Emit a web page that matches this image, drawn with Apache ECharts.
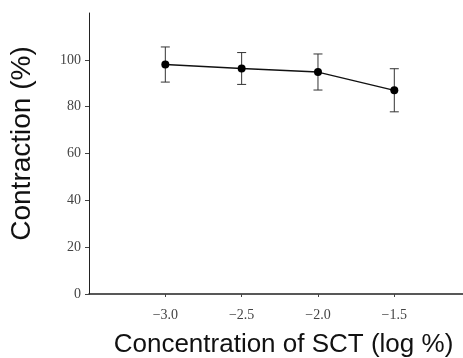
<!DOCTYPE html>
<html>
<head>
<meta charset="utf-8">
<script src="https://cdn.jsdelivr.net/npm/echarts@6/dist/echarts.min.js"></script>
<style>
  html, body { margin: 0; padding: 0; background: #fff; }
  #chart { width: 463px; height: 358px; }
</style>
</head>
<body>
<div id="chart"></div>
<script>
// concentration (log %) and contraction (%) with error bar half-widths
const concentrations = [-3.0, -2.5, -2.0, -1.5]
const contraction = [98, 96.3, 94.8, 87]
const errors = [7.5, 6.8, 7.7, 9.2]
const xTicks = [-3.0, -2.5, -2.0, -1.5]
const yTicks = [0, 20, 40, 60, 80, 100]

const chart = echarts.init(document.getElementById('chart'))

const points = concentrations.map((c, i) => [c, contraction[i]])
const bars = concentrations.map((c, i) => [c, contraction[i] - errors[i], contraction[i] + errors[i]])

const tickFont = { fontFamily: 'Liberation Serif', fontSize: 14, color: '#444' }

chart.setOption({
  animation: false,
  grid: { left: 89, right: 0, top: 13, bottom: 64, outerBoundsMode: 'none' },
  xAxis: {
    type: 'value',
    min: -3.5,
    max: -1.05,
    name: 'Concentration of SCT (log %)',
    nameLocation: 'middle',
    nameGap: 38,
    nameTextStyle: {
      fontFamily: 'Liberation Sans',
      fontSize: 26,
      color: '#111',
      padding: [0, 0, 0, 15],
    },
    axisLine: { lineStyle: { color: '#222', width: 1.5 } },
    axisTick: { show: true, customValues: xTicks, length: 3, lineStyle: { color: '#444' } },
    axisLabel: {
      customValues: xTicks,
      margin: 14,
      ...tickFont,
      formatter: (v) => v.toFixed(1).replace('-', '\u2212'),
    },
    splitLine: { show: false },
  },
  yAxis: {
    type: 'value',
    min: 0,
    max: 120,
    name: 'Contraction (%)',
    nameLocation: 'middle',
    nameGap: 53,
    nameTextStyle: {
      fontFamily: 'Liberation Sans',
      fontSize: 28,
      color: '#111',
      padding: [0, 0, 0, 20],
    },
    axisLine: { show: true, lineStyle: { color: '#222', width: 1 } },
    axisTick: { show: true, customValues: yTicks, length: 4, lineStyle: { color: '#444' } },
    axisLabel: { customValues: yTicks, margin: 8, ...tickFont },
    splitLine: { show: false },
  },
  series: [
    {
      type: 'custom',
      data: bars,
      z: 1,
      renderItem: (params, api) => {
        const x = api.value(0)
        const lo = api.coord([x, api.value(1)])
        const hi = api.coord([x, api.value(2)])
        const w = 4.5
        const style = { stroke: '#333', lineWidth: 1 }
        return {
          type: 'group',
          children: [
            { type: 'line', shape: { x1: lo[0], y1: lo[1], x2: hi[0], y2: hi[1] }, style },
            { type: 'line', shape: { x1: lo[0] - w, y1: lo[1], x2: lo[0] + w, y2: lo[1] }, style },
            { type: 'line', shape: { x1: hi[0] - w, y1: hi[1], x2: hi[0] + w, y2: hi[1] }, style },
          ],
        }
      },
    },
    {
      type: 'line',
      data: points,
      z: 2,
      symbol: 'circle',
      symbolSize: 8,
      itemStyle: { color: '#000' },
      lineStyle: { color: '#111', width: 1.3 },
    },
  ],
})
</script>
</body>
</html>
